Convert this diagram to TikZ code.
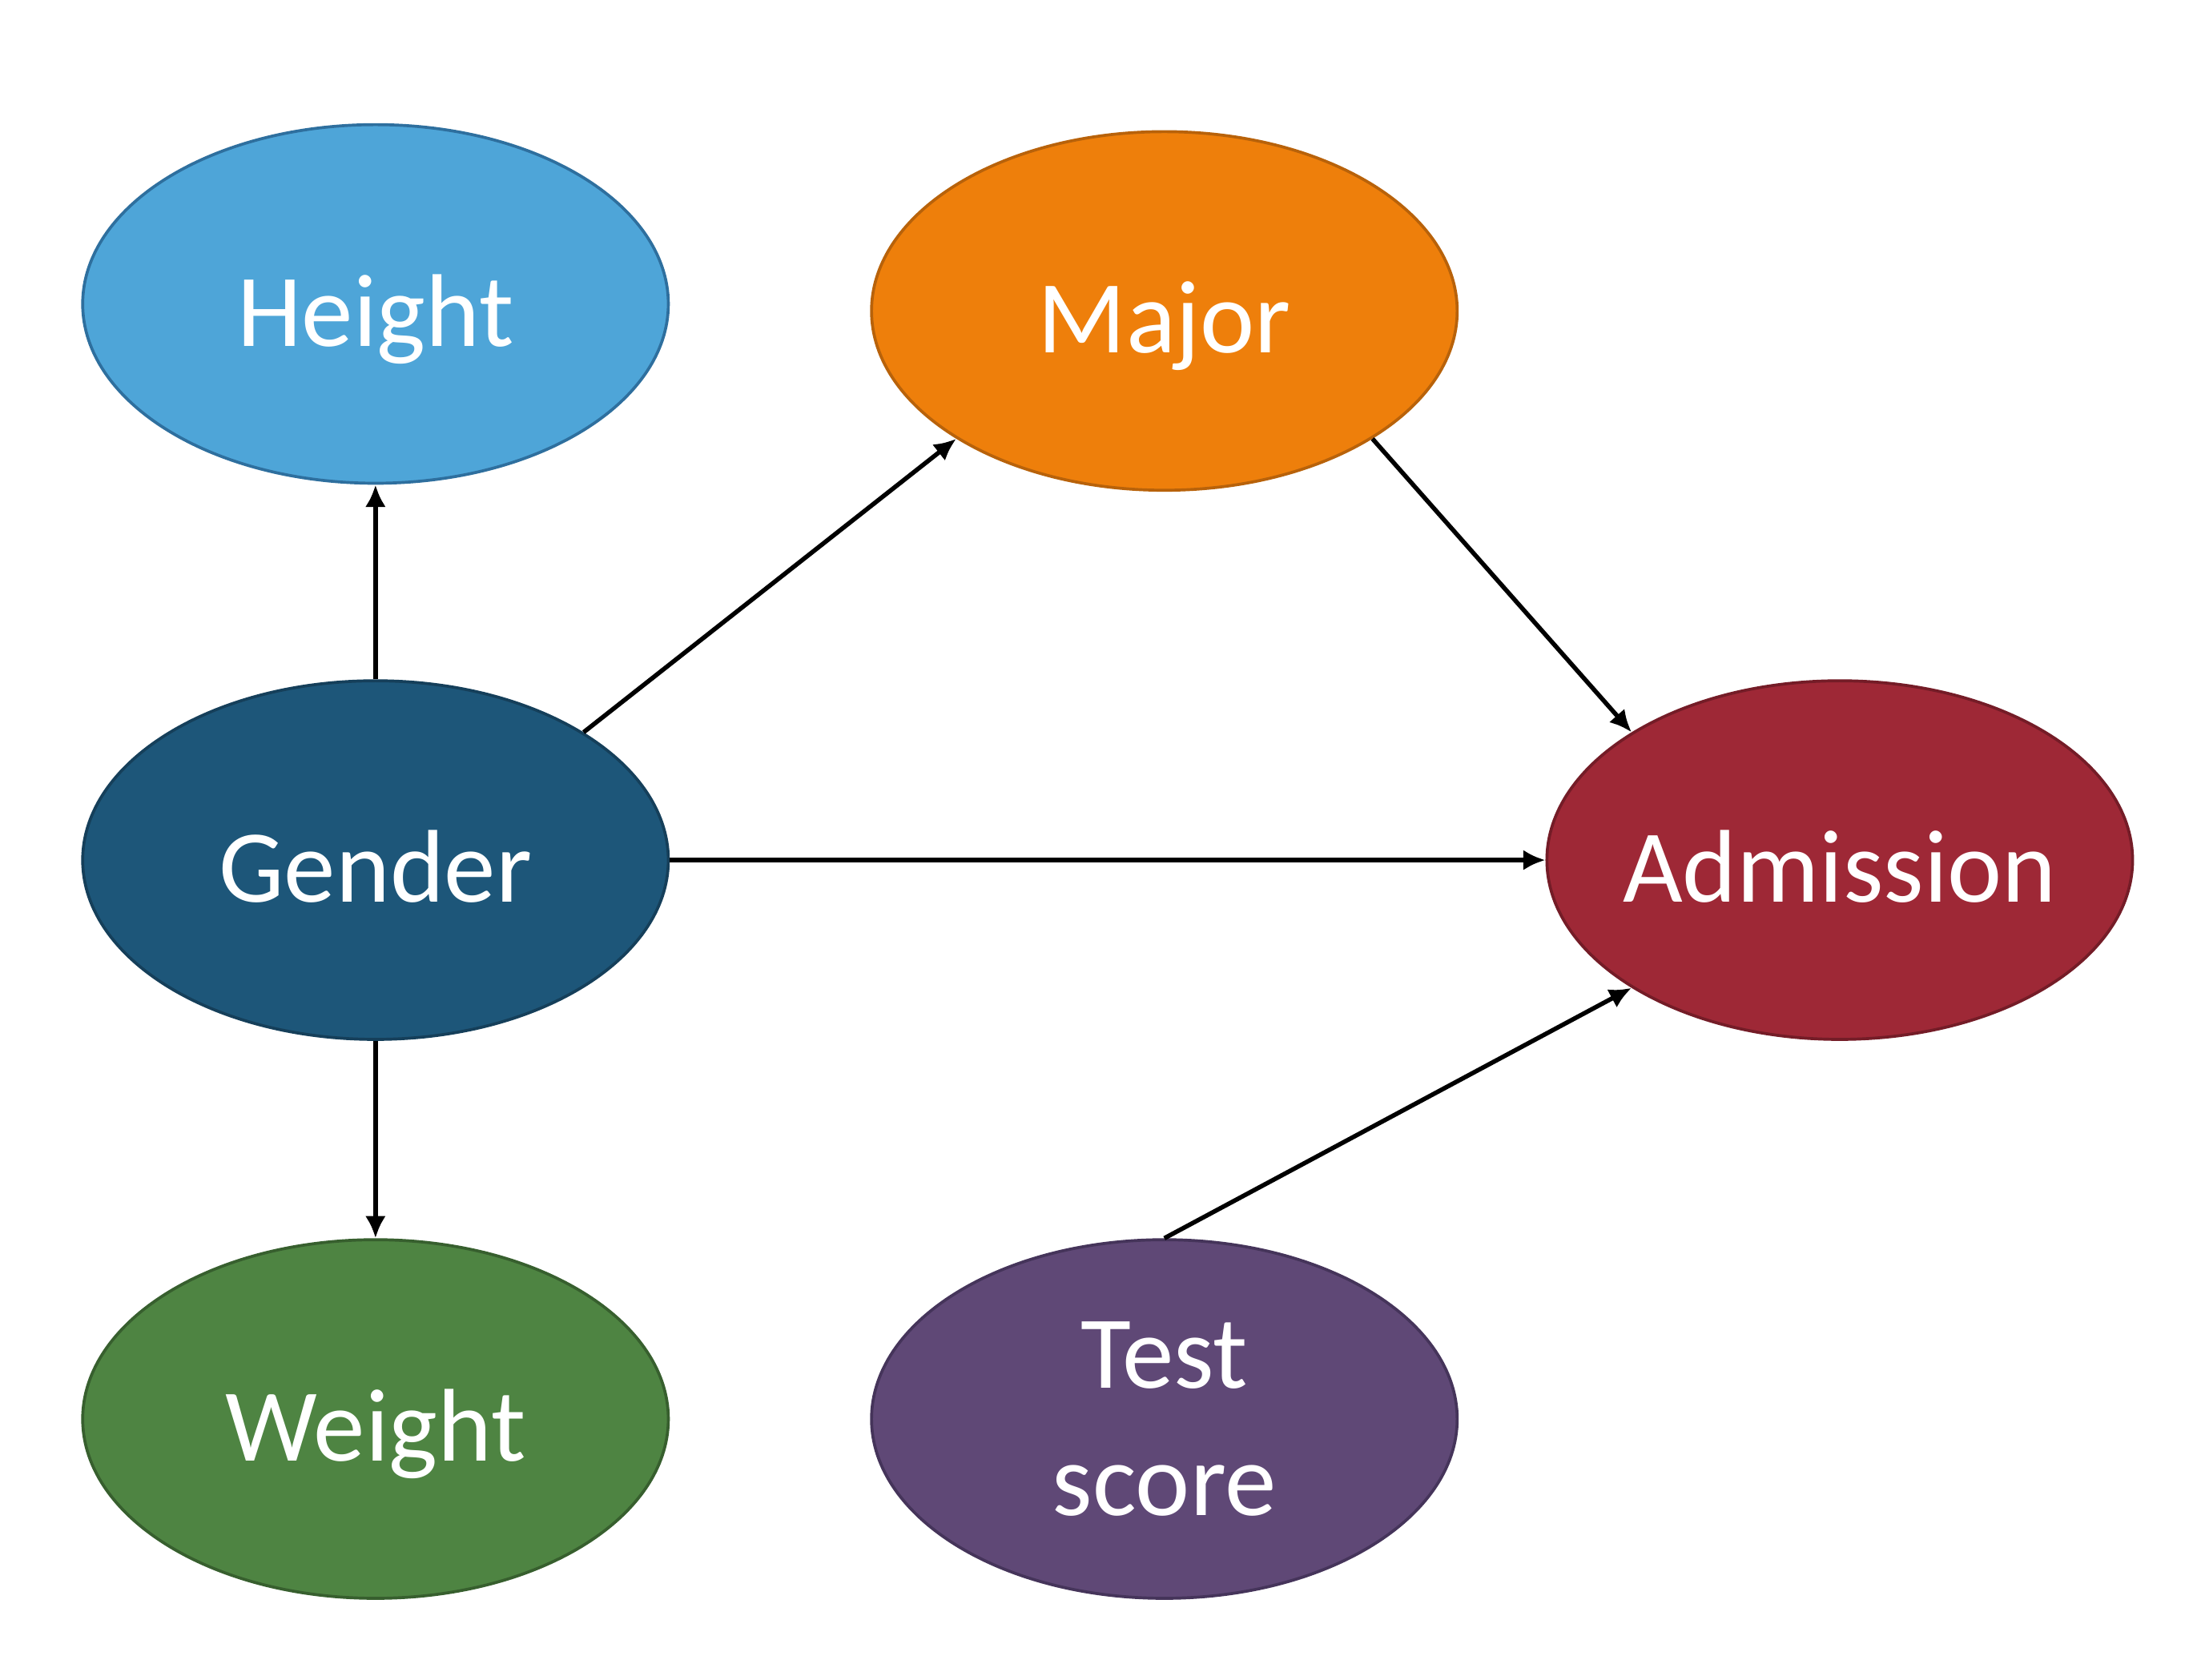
\documentclass[tikz,border=0pt]{standalone}
\usepackage{fontspec}
\setmainfont{Carlito}
\usetikzlibrary{arrows.meta,shapes.geometric}
\definecolor{heightfill}{HTML}{4EA5D8}
\definecolor{heightline}{HTML}{2E6F9E}
\definecolor{majorfill}{HTML}{EE7F0B}
\definecolor{majorline}{HTML}{B8620A}
\definecolor{genderfill}{HTML}{1D5679}
\definecolor{genderline}{HTML}{153F5A}
\definecolor{admitfill}{HTML}{9E2836}
\definecolor{admitline}{HTML}{741C27}
\definecolor{weightfill}{HTML}{4E8442}
\definecolor{weightline}{HTML}{375F2E}
\definecolor{testfill}{HTML}{5F4876}
\definecolor{testline}{HTML}{45345A}
\begin{document}
\begin{tikzpicture}
      [inner xsep=-0.3cm,inner ysep=0pt,
       var/.style={ellipse,minimum width=4.18cm,minimum height=2.56cm,
                   line width=0.6pt,text=white,align=center,
                   font=\fontsize{21}{25.8}\selectfont},
       oneline/.style={text height=0.75cm,text depth=0.15cm},
       arrow/.style={line width=0.9pt,-{Latex[length=4.5pt,width=4.2pt]}}]
      \useasboundingbox (0,0) rectangle (15.68,11.99);
      \node at (2.68,9.82) (height) [var,oneline,draw=heightline,fill=heightfill] {Height};
      \node at (8.31,9.77) (major) [var,oneline,draw=majorline,fill=majorfill] {Major};
      \node at (2.68,5.85) (gender) [var,oneline,draw=genderline,fill=genderfill] {Gender};
      \node at (13.13,5.85) (admission) [var,oneline,draw=admitline,fill=admitfill] {Admission};
      \node at (2.68,1.86) (weight) [var,oneline,draw=weightline,fill=weightfill] {Weight};
      \node at (8.31,1.86) (test) [var,draw=testline,fill=testfill] {Test\\score};
      \foreach \a/\b in {gender.north/height.south,
                         gender.south/weight.north,
                         gender.north east/major.south west,
                         gender.east/admission.west,
                         major.south east/admission.north west,
                         test.north/admission.south west}
         \draw [arrow] (\a) to (\b);
    \end{tikzpicture}
\end{document}
